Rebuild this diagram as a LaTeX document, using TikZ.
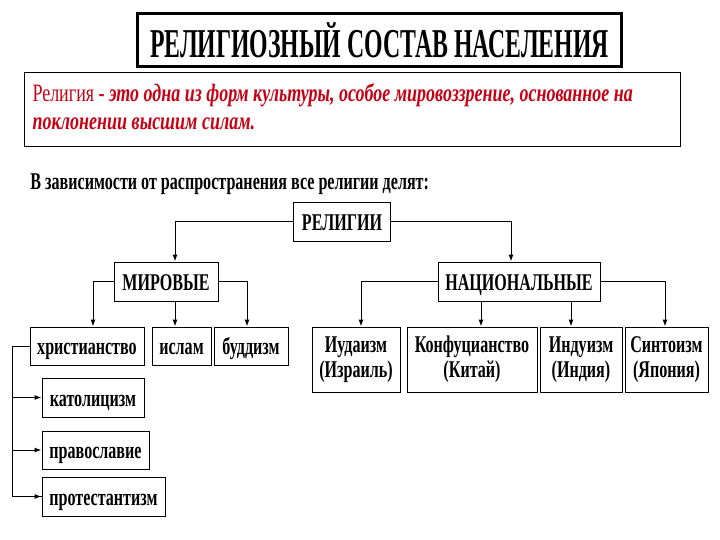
\documentclass[tikz,border=0pt]{standalone}
\usepackage{fontspec}
\setmainfont{Liberation Serif}
\newfontfamily\condfont{Liberation Serif}[FakeStretch=0.67]
\newfontfamily\titlefont{Liberation Serif}[FakeStretch=0.58]
\newfontfamily\deffont{Liberation Serif}[FakeStretch=0.72]
\usetikzlibrary{arrows.meta}
\definecolor{defred}{RGB}{200,0,20}

\begin{document}
\begin{tikzpicture}[
  x=1pt, y=-1pt,
  >={Latex[length=7pt,width=5pt]},
  line width=1pt,
  every node/.style={inner sep=0pt, font=\condfont\bfseries\fontsize{24}{27}\selectfont},
  kind box/.style={draw, minimum height=39pt, text height=17pt, text depth=0pt},
  item box/.style={draw, minimum height=38pt, text height=17pt, text depth=0pt},
  land box/.style={draw, minimum height=65pt, align=center, font=\condfont\bfseries\fontsize{24}{25}\selectfont},
]
\useasboundingbox (0,0) rectangle (720,540);
\node[draw, line width=3pt, minimum width=484pt, minimum height=53pt,
  font=\titlefont\bfseries\fontsize{41}{44}\selectfont] (title) at (379.5,40.5) {РЕЛИГИОЗНЫЙ СОСТАВ НАСЕЛЕНИЯ};
\draw (24,73) rectangle (680,147);
\node[anchor=base west, align=left, text=defred,
  font=\deffont\fontsize{25}{28}\selectfont] (def) at (32,130)
  {Религия \textbf{- \itshape это одна из форм культуры, особое мировоззрение, основанное на}\\
   \textbf{\itshape поклонении высшим силам.}};
\node[anchor=base west] (intro) at (30,190) {В зависимости от распространения все религии делят:};

\node[kind box, minimum width=97pt] (relig) at (342,222) {РЕЛИГИИ};
\node[kind box, minimum width=104pt] (world) at (166,281.5) {МИРОВЫЕ};
\node[kind box, minimum width=162pt] (natl) at (519,281.5) {НАЦИОНАЛЬНЫЕ};

\node[item box, minimum width=114pt] (christ) at (87,346) {христианство};
\node[item box, minimum width=59pt] (islam) at (181.5,346) {ислам};
\node[item box, minimum width=74pt] (budd) at (251,346) {буддизм};

\node[land box, minimum width=88pt] (jud) at (356,359.5) {Иудаизм\\(Израиль)};
\node[land box, minimum width=130pt] (conf) at (472,359.5) {Конфуцианство\\(Китай)};
\node[land box, minimum width=82pt] (hind) at (581,359.5) {Индуизм\\(Индия)};
\node[land box, minimum width=83pt] (shinto) at (666.5,359.5) {Синтоизм\\(Япония)};

\node[kind box, minimum width=102pt] (cath) at (93,397.5) {католицизм};
\node[item box, minimum width=107pt] (orth) at (95.5,450) {православие};
\node[kind box, minimum width=123pt] (prot) at (103.5,496.5) {протестантизм};

\draw[->] (relig.west) -| ([xshift=9pt]world.north);
\draw[->] (relig.east) -| ([xshift=-8pt]natl.north);
\draw[->] (world.west) -| ([xshift=6pt]christ.north);
\draw[->] ([xshift=9pt]world.south) -- ([xshift=9pt]world.south |- islam.north);
\draw[->] (world.east) -| ([xshift=-4pt]budd.north);
\draw[->] (natl.west) -| ([xshift=5pt]jud.north);
\draw[->] ([xshift=-38pt]natl.south) -- ([xshift=-38pt]natl.south |- conf.north);
\draw[->] ([xshift=52pt]natl.south) -- ([xshift=52pt]natl.south |- hind.north);
\draw[->] (natl.east) -| ([xshift=-1.5pt]shinto.north);
\draw (christ.west) -- ++(-17,0) coordinate (fork) |- (prot.west);
\draw[->] (fork |- cath.west) -- (cath.west);
\draw[->] (fork |- orth.west) -- (orth.west);
\draw[->] (fork |- prot.west) -- (prot.west);
\end{tikzpicture}
\end{document}
